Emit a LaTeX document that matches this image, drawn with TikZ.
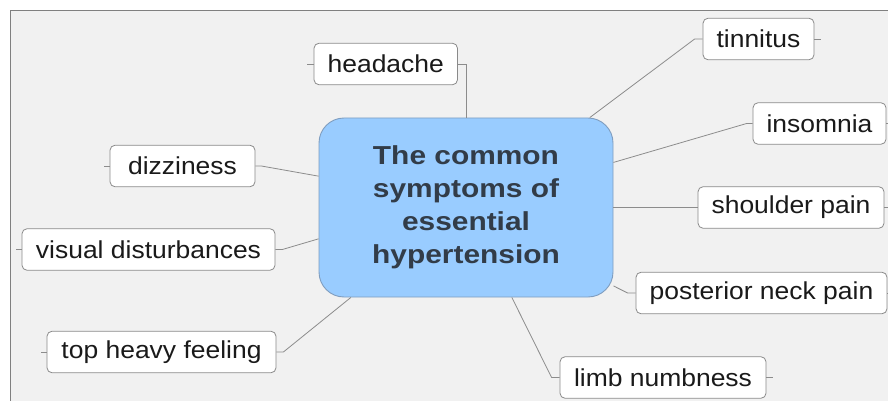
\documentclass[tikz,border=0pt]{standalone}
\usepackage{fontspec}
\setmainfont[FakeStretch=1.08]{Liberation Sans}
\newfontfamily\centfont[FakeStretch=1.15]{Liberation Sans}
\definecolor{bgc}{HTML}{F1F1F1}
\definecolor{framec}{HTML}{808080}
\definecolor{connc}{HTML}{8C8C8C}
\definecolor{boxc}{HTML}{8A8A8A}
\definecolor{centfill}{HTML}{99CCFF}
\definecolor{centdraw}{HTML}{7F9DBF}
\definecolor{centtext}{HTML}{323C48}
\definecolor{leaftext}{HTML}{1A1A1A}
\begin{document}
\begin{tikzpicture}[x=1pt,y=-1pt,
  leaf/.style={draw=boxc, line width=0.8pt, fill=white, rounded corners=5pt,
    minimum height=41.5pt, inner sep=0pt, text=leaftext,
    font=\fontsize{24.5pt}{28pt}\selectfont},
  central/.style={draw=centdraw, line width=0.9pt, fill=centfill, rounded corners=25pt,
    minimum width=294pt, minimum height=179pt, inner sep=0pt, align=center,
    text=centtext, font=\centfont\fontsize{26pt}{33pt}\selectfont\bfseries},
  conn/.style={draw=connc, line width=0.8pt}]
\useasboundingbox (0,0) rectangle (888,401);
\fill[white] (0,0) rectangle (888,401);
\fill[bgc] (10,10) rectangle (888,401);
\draw[framec, line width=0.8pt] (888,10) -- (10,10) -- (10,401);

\node[central] (central) at (466,207.5) {The common\\symptoms of\\essential\\hypertension};

\node[leaf, minimum width=143.5pt] (headache) at (385.75,64) {headache};
\node[leaf, minimum width=111pt] (tinnitus) at (758.5,39) {tinnitus};
\node[leaf, minimum width=133pt] (insomnia) at (819.5,123.5) {insomnia};
\node[leaf, minimum width=186pt] (shoulder) at (791,207.5) {shoulder pain};
\node[leaf, minimum width=251pt] (posterior) at (761.5,293) {posterior neck pain};
\node[leaf, minimum width=206pt] (limb) at (663,377.5) {limb numbness};
\node[leaf, minimum width=145pt] (dizzy) at (182.5,166) {dizziness};
\node[leaf, minimum width=253pt] (visual) at (148.5,249.5) {visual disturbances};
\node[leaf, minimum width=229pt] (topheavy) at (161.5,352) {top heavy feeling};

\draw[conn] (headache.east) -- (headache.east -| central.north) -- (central.north);
\draw[conn] (headache.west) -- ++(-7,0);
\draw[conn] (tinnitus.west) -- ++(-8,0) -- (central.36);
\draw[conn] (tinnitus.east) -- ++(7,0);
\draw[conn] (insomnia.west) -- ++(-6,0) -- (central.17);
\draw[conn] (insomnia.east) -- ++(6,0);
\draw[conn] (central.east) -- (shoulder.west);
\draw[conn] (shoulder.east) -- ++(6,0);
\draw[conn] (posterior.west) -- ++(-8,0) -- (central.-28);
\draw[conn] (posterior.east) -- ++(6,0);
\draw[conn] (limb.west) -- ++(-8,0) -- (central.-63);
\draw[conn] (limb.east) -- ++(7,0);
\draw[conn] (dizzy.east) -- ++(6,0) -- (central.168);
\draw[conn] (dizzy.west) -- ++(-6,0);
\draw[conn] (visual.east) -- ++(7,0) -- (central.192);
\draw[conn] (visual.west) -- ++(-6,0);
\draw[conn] (topheavy.east) -- ++(7,0) -- (central.218.6);
\draw[conn] (topheavy.west) -- ++(-6,0);
\end{tikzpicture}
\end{document}
